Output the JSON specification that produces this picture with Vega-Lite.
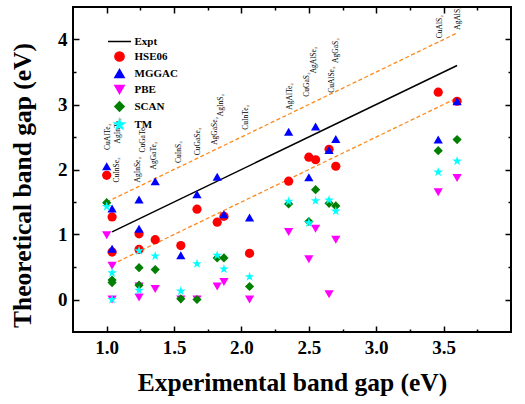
{
  "$schema": "https://vega.github.io/schema/vega-lite/v6.json",
  "width": 438,
  "height": 325,
  "autosize": {"type": "none"},
  "padding": {"left": 73, "top": 7, "right": 14, "bottom": 72},
  "background": "white",
  "config": {
    "view": {"stroke": "black", "strokeWidth": 2},
    "font": "Liberation Serif",
    "axis": {"grid": false, "domainColor": "black", "domainWidth": 2, "tickColor": "black", "tickWidth": 1.5, "labelFont": "Liberation Serif", "labelFontWeight": "bold", "labelFontSize": 19, "labelColor": "black", "titleFont": "Liberation Serif", "titleFontWeight": "bold", "titleFontSize": 25.5, "titleColor": "black"}
  },
  "datasets": {
    "pts": [
      {"m": "CuAlTe2", "x": 1.0, "y": 1.91, "method": "HSE06"},
      {"m": "CuInSe2", "x": 1.04, "y": 1.27, "method": "HSE06"},
      {"m": "AgInTe2", "x": 1.04, "y": 0.73, "method": "HSE06"},
      {"m": "AgInSe2", "x": 1.24, "y": 1.01, "method": "HSE06"},
      {"m": "CuGaTe2", "x": 1.24, "y": 0.77, "method": "HSE06"},
      {"m": "AgGaTe2", "x": 1.36, "y": 0.92, "method": "HSE06"},
      {"m": "CuInS2", "x": 1.55, "y": 0.83, "method": "HSE06"},
      {"m": "CuGaSe2", "x": 1.67, "y": 1.39, "method": "HSE06"},
      {"m": "AgGaSe2", "x": 1.82, "y": 1.19, "method": "HSE06"},
      {"m": "AgInS2", "x": 1.87, "y": 1.28, "method": "HSE06"},
      {"m": "CuInTe2", "x": 2.06, "y": 0.71, "method": "HSE06"},
      {"m": "AgAlTe2", "x": 2.35, "y": 1.82, "method": "HSE06"},
      {"m": "CuGaS2", "x": 2.5, "y": 2.19, "method": "HSE06"},
      {"m": "AgAlSe2", "x": 2.55, "y": 2.15, "method": "HSE06"},
      {"m": "CuAlSe2", "x": 2.65, "y": 2.31, "method": "HSE06"},
      {"m": "AgGaS2", "x": 2.7, "y": 2.05, "method": "HSE06"},
      {"m": "CuAlS2", "x": 3.46, "y": 3.19, "method": "HSE06"},
      {"m": "AgAlS2", "x": 3.6, "y": 3.05, "method": "HSE06"},
      {"m": "CuAlTe2", "x": 1.0, "y": 2.05, "method": "MGGAC"},
      {"m": "CuInSe2", "x": 1.04, "y": 1.4, "method": "MGGAC"},
      {"m": "AgInTe2", "x": 1.04, "y": 0.78, "method": "MGGAC"},
      {"m": "AgInSe2", "x": 1.24, "y": 1.54, "method": "MGGAC"},
      {"m": "CuGaTe2", "x": 1.24, "y": 1.09, "method": "MGGAC"},
      {"m": "AgGaTe2", "x": 1.36, "y": 1.82, "method": "MGGAC"},
      {"m": "CuInS2", "x": 1.55, "y": 0.68, "method": "MGGAC"},
      {"m": "CuGaSe2", "x": 1.67, "y": 1.62, "method": "MGGAC"},
      {"m": "AgGaSe2", "x": 1.82, "y": 1.89, "method": "MGGAC"},
      {"m": "AgInS2", "x": 1.87, "y": 1.31, "method": "MGGAC"},
      {"m": "CuInTe2", "x": 2.06, "y": 1.26, "method": "MGGAC"},
      {"m": "AgAlTe2", "x": 2.35, "y": 2.58, "method": "MGGAC"},
      {"m": "CuGaS2", "x": 2.5, "y": 1.88, "method": "MGGAC"},
      {"m": "AgAlSe2", "x": 2.55, "y": 2.66, "method": "MGGAC"},
      {"m": "CuAlSe2", "x": 2.65, "y": 2.3, "method": "MGGAC"},
      {"m": "AgGaS2", "x": 2.7, "y": 2.47, "method": "MGGAC"},
      {"m": "CuAlS2", "x": 3.46, "y": 2.46, "method": "MGGAC"},
      {"m": "AgAlS2", "x": 3.6, "y": 3.05, "method": "MGGAC"},
      {"m": "CuAlTe2", "x": 1.0, "y": 0.99, "method": "PBE"},
      {"m": "CuInSe2", "x": 1.04, "y": 0.52, "method": "PBE"},
      {"m": "AgInTe2", "x": 1.04, "y": 0.0, "method": "PBE"},
      {"m": "AgInSe2", "x": 1.24, "y": 0.2, "method": "PBE"},
      {"m": "CuGaTe2", "x": 1.24, "y": 0.03, "method": "PBE"},
      {"m": "AgGaTe2", "x": 1.36, "y": 0.16, "method": "PBE"},
      {"m": "CuInS2", "x": 1.55, "y": 0.0, "method": "PBE"},
      {"m": "CuGaSe2", "x": 1.67, "y": 0.0, "method": "PBE"},
      {"m": "AgGaSe2", "x": 1.82, "y": 0.2, "method": "PBE"},
      {"m": "AgInS2", "x": 1.87, "y": 0.27, "method": "PBE"},
      {"m": "CuInTe2", "x": 2.06, "y": 0.0, "method": "PBE"},
      {"m": "AgAlTe2", "x": 2.35, "y": 1.04, "method": "PBE"},
      {"m": "CuGaS2", "x": 2.5, "y": 0.62, "method": "PBE"},
      {"m": "AgAlSe2", "x": 2.55, "y": 1.09, "method": "PBE"},
      {"m": "CuAlSe2", "x": 2.65, "y": 0.08, "method": "PBE"},
      {"m": "AgGaS2", "x": 2.7, "y": 0.92, "method": "PBE"},
      {"m": "CuAlS2", "x": 3.46, "y": 1.65, "method": "PBE"},
      {"m": "AgAlS2", "x": 3.6, "y": 1.87, "method": "PBE"},
      {"m": "CuAlTe2", "x": 1.0, "y": 1.49, "method": "SCAN"},
      {"m": "CuInSe2", "x": 1.04, "y": 0.3, "method": "SCAN"},
      {"m": "AgInTe2", "x": 1.04, "y": 0.26, "method": "SCAN"},
      {"m": "AgInSe2", "x": 1.24, "y": 0.49, "method": "SCAN"},
      {"m": "CuGaTe2", "x": 1.24, "y": 0.22, "method": "SCAN"},
      {"m": "AgGaTe2", "x": 1.36, "y": 0.46, "method": "SCAN"},
      {"m": "CuInS2", "x": 1.55, "y": 0.01, "method": "SCAN"},
      {"m": "CuGaSe2", "x": 1.67, "y": 0.0, "method": "SCAN"},
      {"m": "AgGaSe2", "x": 1.82, "y": 0.64, "method": "SCAN"},
      {"m": "AgInS2", "x": 1.87, "y": 0.64, "method": "SCAN"},
      {"m": "CuInTe2", "x": 2.06, "y": 0.2, "method": "SCAN"},
      {"m": "AgAlTe2", "x": 2.35, "y": 1.47, "method": "SCAN"},
      {"m": "CuGaS2", "x": 2.5, "y": 1.2, "method": "SCAN"},
      {"m": "AgAlSe2", "x": 2.55, "y": 1.69, "method": "SCAN"},
      {"m": "CuAlSe2", "x": 2.65, "y": 1.48, "method": "SCAN"},
      {"m": "AgGaS2", "x": 2.7, "y": 1.44, "method": "SCAN"},
      {"m": "CuAlS2", "x": 3.46, "y": 2.29, "method": "SCAN"},
      {"m": "AgAlS2", "x": 3.6, "y": 2.46, "method": "SCAN"},
      {"m": "CuAlTe2", "x": 1.0, "y": 1.43, "method": "TM"},
      {"m": "CuInSe2", "x": 1.04, "y": 0.41, "method": "TM"},
      {"m": "AgInTe2", "x": 1.04, "y": 0.0, "method": "TM"},
      {"m": "AgInSe2", "x": 1.24, "y": 0.75, "method": "TM"},
      {"m": "CuGaTe2", "x": 1.24, "y": 0.14, "method": "TM"},
      {"m": "AgGaTe2", "x": 1.36, "y": 0.67, "method": "TM"},
      {"m": "CuInS2", "x": 1.55, "y": 0.13, "method": "TM"},
      {"m": "CuGaSe2", "x": 1.67, "y": 0.55, "method": "TM"},
      {"m": "AgGaSe2", "x": 1.82, "y": 0.68, "method": "TM"},
      {"m": "AgInS2", "x": 1.87, "y": 0.47, "method": "TM"},
      {"m": "CuInTe2", "x": 2.06, "y": 0.35, "method": "TM"},
      {"m": "AgAlTe2", "x": 2.35, "y": 1.51, "method": "TM"},
      {"m": "CuGaS2", "x": 2.5, "y": 1.18, "method": "TM"},
      {"m": "AgAlSe2", "x": 2.55, "y": 1.52, "method": "TM"},
      {"m": "CuAlSe2", "x": 2.65, "y": 1.53, "method": "TM"},
      {"m": "AgGaS2", "x": 2.7, "y": 1.36, "method": "TM"},
      {"m": "CuAlS2", "x": 3.46, "y": 1.96, "method": "TM"},
      {"m": "AgAlS2", "x": 3.6, "y": 2.13, "method": "TM"}
    ],
    "lines": [
      {"line": "Expt", "x": 1.04, "y": 1.04},
      {"line": "Expt", "x": 3.6, "y": 3.6},
      {"line": "upper", "x": 1.0, "y": 1.5},
      {"line": "upper", "x": 3.6, "y": 4.1},
      {"line": "lower", "x": 1.04, "y": 0.54},
      {"line": "lower", "x": 3.6, "y": 3.1}
    ],
    "labels": [
      {"name": "CuAlTe₂", "x": 1.01, "y": 2.3},
      {"name": "CuInSe₂", "x": 1.08, "y": 1.8},
      {"name": "AgInTe₂", "x": 1.085, "y": 2.4},
      {"name": "AgInSe₂", "x": 1.23, "y": 1.8},
      {"name": "CuGaTe₂", "x": 1.27, "y": 2.26},
      {"name": "AgGaTe₂", "x": 1.35, "y": 2.0},
      {"name": "CuInS₂", "x": 1.54, "y": 2.1},
      {"name": "CuGaSe₂", "x": 1.68, "y": 2.22},
      {"name": "AgGaSe₂", "x": 1.8, "y": 2.38},
      {"name": "AgInS₂", "x": 1.845, "y": 2.82},
      {"name": "CuInTe₂", "x": 2.035, "y": 2.61},
      {"name": "AgAlTe₂", "x": 2.36, "y": 2.92},
      {"name": "CuGaS₂", "x": 2.49, "y": 3.12},
      {"name": "AgAlSe₂", "x": 2.54, "y": 3.48},
      {"name": "CuAlSe₂", "x": 2.67, "y": 3.18},
      {"name": "AgGaS₂", "x": 2.7, "y": 3.64},
      {"name": "CuAlS₂", "x": 3.47, "y": 4.02},
      {"name": "AgAlS₂", "x": 3.61, "y": 4.15}
    ]
  },
  "resolve": {"axis": {"x": "independent", "y": "independent"}},
  "layer": [
    {
      "data": {"name": "lines"},
      "transform": [{"filter": "datum.line !== 'Expt'"}],
      "mark": {"type": "line", "color": "#FF8A1C", "strokeWidth": 1.3, "strokeDash": [4, 2.5]},
      "encoding": {
        "x": {"field": "x", "type": "quantitative", "scale": {"domain": [0.75, 4.0], "nice": false, "zero": false},
          "axis": {"orient": "top", "values": [1, 1.25, 1.5, 1.75, 2, 2.25, 2.5, 2.75, 3, 3.25, 3.5, 3.75], "labels": false, "title": null, "domain": false,
            "tickSize": {"condition": {"test": "(datum.value * 2) % 1 === 0", "value": -6}, "value": -3}}},
        "y": {"field": "y", "type": "quantitative", "scale": {"domain": [-0.5, 4.5], "nice": false, "zero": false},
          "axis": {"orient": "right", "values": [0, 0.5, 1, 1.5, 2, 2.5, 3, 3.5, 4], "labels": false, "title": null, "domain": false,
            "tickSize": {"condition": {"test": "datum.value % 1 === 0", "value": -6}, "value": -3}}},
        "detail": {"field": "line"}
      }
    },
    {
      "data": {"name": "lines"},
      "transform": [{"filter": "datum.line === 'Expt'"}],
      "mark": {"type": "line", "strokeWidth": 1.5},
      "encoding": {
        "x": {"field": "x", "type": "quantitative", "axis": null},
        "y": {"field": "y", "type": "quantitative", "axis": null},
        "color": {"field": "line", "type": "nominal",
          "scale": {"domain": ["Expt", "HSE06", "MGGAC", "PBE", "SCAN", "TM"], "range": ["#000000", "#FF0000", "#0000FF", "#FF00FF", "#007F00", "#00FFFF"]},
          "legend": {"title": null, "orient": "none", "legendX": 41, "legendY": 29, "padding": 0, "labelFont": "Liberation Serif", "labelFontWeight": "bold", "labelFontSize": 11, "labelColor": "black", "labelOffset": 9.5, "rowPadding": 1, "symbolSize": 85, "symbolStrokeWidth": 1.5}}
      }
    },
    {
      "data": {"name": "pts"},
      "mark": {"type": "point", "filled": true, "opacity": 1, "size": 85},
      "encoding": {
        "x": {"field": "x", "type": "quantitative", "title": "Experimental band gap (eV)",
          "axis": {"orient": "bottom", "values": [1, 1.25, 1.5, 1.75, 2, 2.25, 2.5, 2.75, 3, 3.25, 3.5, 3.75], "domain": false,
            "labelExpr": "(datum.value * 2) % 1 === 0 ? format(datum.value, '.1f') : ''",
            "tickSize": {"condition": {"test": "(datum.value * 2) % 1 === 0", "value": -6}, "value": -3},
            "labelPadding": 12, "labelFlush": false, "titleY": 58, "titleBaseline": "alphabetic"}},
        "y": {"field": "y", "type": "quantitative", "title": "Theoretical band gap (eV)",
          "axis": {"orient": "left", "values": [0, 0.5, 1, 1.5, 2, 2.5, 3, 3.5, 4], "domain": false,
            "labelExpr": "datum.value % 1 === 0 ? format(datum.value, 'd') : ''",
            "tickSize": {"condition": {"test": "datum.value % 1 === 0", "value": -6}, "value": -3},
            "labelPadding": 12, "titleX": -51, "titleY": 178, "titleBaseline": "middle", "titleAngle": 270}},
        "color": {"field": "method", "type": "nominal",
          "scale": {"domain": ["Expt", "HSE06", "MGGAC", "PBE", "SCAN", "TM"], "range": ["#000000", "#FF0000", "#0000FF", "#FF00FF", "#007F00", "#00FFFF"]}},
        "shape": {"field": "method", "type": "nominal",
          "scale": {"domain": ["Expt", "HSE06", "MGGAC", "PBE", "SCAN", "TM"], "range": ["M-2.5,0L2.5,0", "circle", "triangle-up", "triangle-down", "diamond", "M0,-1.1L0.2457,-0.3381L1.0462,-0.3399L0.3975,0.1291L0.6466,0.8899L0,0.418L-0.6466,0.8899L-0.3975,0.1291L-1.0462,-0.3399L-0.2457,-0.3381Z"]}}
      }
    },
    {
      "data": {"name": "labels"},
      "mark": {"type": "text", "angle": 270, "align": "left", "baseline": "middle", "font": "Liberation Serif", "fontSize": 7.5, "color": "black"},
      "encoding": {
        "x": {"field": "x", "type": "quantitative", "axis": null},
        "y": {"field": "y", "type": "quantitative", "axis": null},
        "text": {"field": "name"}
      }
    }
  ]
}
